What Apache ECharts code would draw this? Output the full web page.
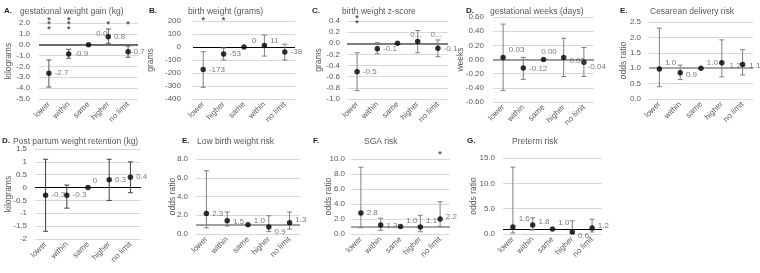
<!DOCTYPE html>
<html>
<head>
<meta charset="utf-8">
<script src="https://cdn.jsdelivr.net/npm/echarts@6/dist/echarts.min.js"></script>
<style>
html, body { margin: 0; padding: 0; background: #fff; }
#chart { width: 760px; height: 273px; }
</style>
</head>
<body>
<div id="chart"></div>
<script>
var FONT = 'Liberation Sans';

// categories
var cats = ['lower', 'within', 'same', 'higher', 'no limit'];
var catsB = ['lower', 'higher', 'same', 'within', 'no limit'];

// A. gestational weight gain (kg)
var gwgVal = [-2.63, -0.85, 0, 0.74, -0.64];
var gwgLo = [-3.9, -1.25, null, 0.13, -1.16];
var gwgHi = [-1.4, -0.42, null, 1.45, -0.12];
var gwgLbl = ['-2.7', '-0.9', '0.0', '0.8', '-0.7'];
var gwgSig = ['***', '***', '', '*', '*'];

// B. birth weight (grams)
var bwVal = [-173, -53, 0, 11, -38];
var bwLo = [-310, -100, null, -70, -100];
var bwHi = [-36, -8, null, 92, 22];
var bwLbl = ['-173', '-53', '0', '11', '-38'];
var bwSig = ['*', '*', '', '', ''];

// C. birth weight z-score
var bzVal = [-0.51, -0.1, 0, 0.03, -0.09];
var bzLo = [-0.85, -0.19, null, -0.17, -0.24];
var bzHi = [-0.17, 0.01, null, 0.23, 0.06];
var bzLbl = ['-0.5', '-0.1', '0...', '0...', '-0.1'];
var bzSig = ['**', '', '', '', ''];

// D. gestational weeks (days)
var gwVal = [0.03, -0.12, 0, 0.03, -0.04];
var gwLo = [-0.44, -0.28, null, -0.24, -0.24];
var gwHi = [0.5, 0.03, null, 0.3, 0.17];
var gwLbl = ['0.03', '-0.12', '0.00', '0.03', '-0.04'];

// E. Cesarean delivery risk
var csVal = [0.97, 0.85, 1.0, 1.18, 1.12];
var csLo = [0.4, 0.63, null, 0.72, 0.78];
var csHi = [2.3, 1.1, null, 1.92, 1.6];
var csLbl = ['1.0', '0.9', '1.0', '1.2', '1.1'];

// D. Post partum weight retention (kg)
var ppVal = [-0.3, -0.3, 0, 0.3, 0.4];
var ppLo = [-1.7, -0.8, null, -0.5, -0.2];
var ppHi = [1.1, 0.1, null, 1.1, 1.0];
var ppLbl = ['-0.3', '-0.3', '0', '0.3', '0.4'];

// E. Low birth weight risk
var lbwVal = [2.2, 1.42, 1.0, 0.75, 1.2];
var lbwLo = [0.65, 0.85, null, 0.25, 0.53];
var lbwHi = [6.75, 2.35, null, 1.95, 2.35];
var lbwLbl = ['2.3', '1.5', '1.0', '0.9', '1.3'];

// F. SGA risk
var sgaVal = [2.8, 1.2, 1.0, 0.95, 2.0];
var sgaLo = [0.84, 0.5, null, 0.3, 1.0];
var sgaHi = [8.9, 2.1, null, 2.5, 4.3];
var sgaLbl = ['2.8', '1.3', '1.0', '1.1', '2.2'];
var sgaSig = ['', '', '', '', '*'];

// G. Preterm risk
var ptVal = [1.4, 1.8, 1.0, 0.4, 1.2];
var ptLo = [0.2, 0.8, null, 0.1, 0.4];
var ptHi = [13.2, 3.2, null, 2.6, 2.9];
var ptLbl = ['1.6', '1.8', '1.0', '0.6', '1.2'];

var panels = [
    { letter: 'A.', title: 'gestational weight gain (kg)', cats: cats, val: gwgVal, lo: gwgLo, hi: gwgHi, lbl: gwgLbl, sig: gwgSig,
      yName: 'kilograms', min: -5, max: 2, step: 1, dec: 1, ref: 0,
      box: [39, 23, 99, 76], letterAt: [4, 7], titleAt: [20, 7], nameGap: 26, lblMargin: 9, sigOff: 2,
      refColor: '#404040', refW: 1.5, errColor: '#595959',
      off: [[0, 0], [0, 0], [2, -11], [0, 0], [-3, 0]] },
    { letter: 'B.', title: 'birth weight (grams)', cats: catsB, val: bwVal, lo: bwLo, hi: bwHi, lbl: bwLbl, sig: bwSig,
      yName: 'grams', min: -400, max: 200, step: 100, dec: 0, ref: 0,
      box: [193, 21, 102, 78], letterAt: [149, 7], titleAt: [188, 7], nameGap: 38, lblMargin: 12, sigOff: 0,
      refColor: '#000', refW: 1.2, errColor: '#7f7f7f',
      off: [[0, 0], [0, 0], [2, -6], [0, -5], [0, 0]] },
    { letter: 'C.', title: 'birth weight z-score', cats: cats, val: bzVal, lo: bzLo, hi: bzHi, lbl: bzLbl, sig: bzSig,
      yName: 'grams', min: -1.0, max: 0.4, step: 0.2, dec: 1, ref: 0,
      box: [347, 21, 101, 78], letterAt: [312, 7], titleAt: [342, 7], nameGap: 24, lblMargin: 7, sigOff: 0,
      refColor: '#595959', refW: 1.5, errColor: '#7f7f7f',
      off: [[0, 0], [0, 0], [7, -8], [7, -7], [0, 0]] },
    { letter: 'D.', title: 'gestational weeks (days)', cats: cats, val: gwVal, lo: gwLo, hi: gwHi, lbl: gwLbl, sig: null,
      yName: 'weeks', min: -0.6, max: 0.6, step: 0.2, dec: 2, ref: 0,
      box: [493, 17, 101, 85], letterAt: [466, 7], titleAt: [490, 7], nameGap: 28, lblMargin: 9,
      refColor: '#7f7f7f', refW: 1.5, errColor: '#7f7f7f',
      off: [[0, -8], [0, 1], [-8, -8], [0, 3], [-2, 4]] },
    { letter: 'E.', title: 'Cesarean delivery risk', cats: cats, val: csVal, lo: csLo, hi: csHi, lbl: csLbl, sig: null,
      yName: 'odds ratio', min: 0, max: 2.5, step: 0.5, dec: 1, ref: 1,
      box: [649, 22, 104, 77], letterAt: [620, 7], titleAt: [650, 7], nameGap: 21, lblMargin: 8,
      refColor: '#a6a6a6', refW: 2, errColor: '#7f7f7f',
      off: [[0, -6], [0, 2], [0, -5], [2, 3], [1, 1]] },
    { letter: 'D.', title: 'Post partum weight retention (kg)', cats: cats, val: ppVal, lo: ppLo, hi: ppHi, lbl: ppLbl, sig: null,
      yName: 'kilograms', min: -2, max: 1.5, step: 0.5, dec: -1, ref: 0,
      box: [35, 149, 106, 90], letterAt: [2, 137], titleAt: [13, 137], nameGap: 22, lblMargin: 8,
      refColor: '#000', refW: 1.2, errColor: '#404040',
      off: [[0, 0], [0, 0], [-1, -7], [0, 0], [0, 0]] },
    { letter: 'E.', title: 'Low birth weight risk', cats: cats, val: lbwVal, lo: lbwLo, hi: lbwHi, lbl: lbwLbl, sig: null,
      yName: 'odds ratio', min: 0, max: 8, step: 2, dec: 1, ref: 1,
      box: [196, 159, 104, 75], letterAt: [182, 137], titleAt: [197, 137], nameGap: 19, lblMargin: 8,
      refColor: '#7f7f7f', refW: 1.5, errColor: '#7f7f7f',
      off: [[0, 0], [0, 1], [0, -4], [0, 5], [0, -3]] },
    { letter: 'F.', title: 'SGA risk', cats: cats, val: sgaVal, lo: sgaLo, hi: sgaHi, lbl: sgaLbl, sig: sgaSig,
      yName: 'odds ratio', min: 0, max: 10, step: 2, dec: 1, ref: 1,
      box: [351, 159, 99, 75], letterAt: [313, 137], titleAt: [364, 137], nameGap: 18, lblMargin: 6, sigOff: -4,
      refColor: '#a6a6a6', refW: 2, errColor: '#7f7f7f',
      off: [[0, 0], [0, 1], [0, -6], [0, -6], [0, -2]] },
    { letter: 'G.', title: 'Preterm risk', cats: cats, val: ptVal, lo: ptLo, hi: ptHi, lbl: ptLbl, sig: null,
      yName: 'odds ratio', min: 0, max: 15, step: 5, dec: 1, ref: 1,
      box: [503, 158, 99, 76], letterAt: [467, 137], titleAt: [512, 137], nameGap: 25, lblMargin: 8,
      refColor: '#000', refW: 1.2, errColor: '#7f7f7f',
      off: [[0, -8], [0, -3], [0, -6], [0, 4], [0, -2]] }
];

function makeErrRender(color) {
    return function (params, api) {
        var x = api.value(0);
        var top = api.coord([x, api.value(2)]);
        var bot = api.coord([x, api.value(1)]);
        var w = 2.5;
        var st = { stroke: color, lineWidth: 1, fill: null };
        return {
            type: 'group',
            children: [
                { type: 'line', shape: { x1: top[0], y1: top[1], x2: bot[0], y2: bot[1] }, style: st },
                { type: 'line', shape: { x1: top[0] - w, y1: top[1], x2: top[0] + w, y2: top[1] }, style: st },
                { type: 'line', shape: { x1: bot[0] - w, y1: bot[1], x2: bot[0] + w, y2: bot[1] }, style: st }
            ]
        };
    };
}

function tickFmt(dec) {
    return function (v) {
        if (dec < 0) return String(Math.round(v * 100) / 100);
        return v.toFixed(dec);
    };
}

var option = {
    animation: false,
    textStyle: { fontFamily: FONT },
    title: [],
    grid: [],
    xAxis: [],
    yAxis: [],
    series: []
};

panels.forEach(function (p, i) {
    option.title.push({
        text: p.letter, left: p.letterAt[0], top: p.letterAt[1], padding: 0,
        textStyle: { fontFamily: FONT, fontSize: 8, fontWeight: 'bold', color: '#262626' }
    });
    option.title.push({
        text: p.title, left: p.titleAt[0], top: p.titleAt[1], padding: 0,
        textStyle: { fontFamily: FONT, fontSize: 8.5, fontWeight: 'normal', color: '#595959' }
    });
    option.grid.push({ left: p.box[0], top: p.box[1], width: p.box[2], height: p.box[3] });
    option.xAxis.push({
        type: 'category', gridIndex: i, data: p.cats,
        axisLine: { show: false }, axisTick: { show: false },
        axisLabel: { rotate: 45, interval: 0, fontSize: 8, color: '#595959', margin: 4, fontFamily: FONT }
    });
    option.yAxis.push({
        type: 'value', gridIndex: i, min: p.min, max: p.max, interval: p.step,
        name: p.yName, nameLocation: 'middle', nameGap: p.nameGap, nameMoveOverlap: false,
        nameTextStyle: { fontSize: 8.5, color: '#595959', fontFamily: FONT },
        axisLine: { show: false }, axisTick: { show: false },
        axisLabel: { fontSize: 8, color: '#595959', margin: p.lblMargin, formatter: tickFmt(p.dec), fontFamily: FONT },
        splitLine: { lineStyle: { color: '#d9d9d9', width: 1 } }
    });

    var errData = [];
    p.lo.forEach(function (lo, k) {
        if (lo !== null) errData.push([k, lo, p.hi[k]]);
    });
    option.series.push({
        type: 'custom', xAxisIndex: i, yAxisIndex: i, z: 4,
        data: errData, encode: { x: 0, y: [1, 2] },
        renderItem: makeErrRender(p.errColor),
        markLine: {
            silent: true, symbol: 'none', z: 3, animation: false,
            label: { show: false },
            lineStyle: { color: p.refColor, width: p.refW, type: 'solid' },
            data: [{ yAxis: p.ref }]
        }
    });

    option.series.push({
        type: 'scatter', xAxisIndex: i, yAxisIndex: i, z: 6,
        symbol: 'circle', symbolSize: 5.5,
        itemStyle: { color: '#000' },
        data: p.val.map(function (v, k) {
            return { value: [k, v], label: { offset: p.off[k] } };
        }),
        label: {
            show: true, position: 'right', distance: 3,
            fontSize: 8, color: '#595959', fontFamily: FONT,
            formatter: function (d) { return p.lbl[d.dataIndex]; }
        }
    });

    if (p.sig) {
        var sigData = [];
        p.sig.forEach(function (s, k) {
            if (s) sigData.push({ value: [k, p.max], stars: s });
        });
        option.series.push({
            type: 'scatter', xAxisIndex: i, yAxisIndex: i, z: 6,
            symbolSize: 0, clip: false, silent: true,
            data: sigData,
            label: {
                show: true, position: 'inside', offset: [0, p.sigOff],
                fontSize: 9, fontWeight: 'bold', color: '#262626', lineHeight: 4.5, fontFamily: FONT,
                formatter: function (d) { return d.data.stars.split('').join('\n'); }
            }
        });
    }
});

var myChart = echarts.init(document.getElementById('chart'));
myChart.setOption(option);
</script>
</body>
</html>
